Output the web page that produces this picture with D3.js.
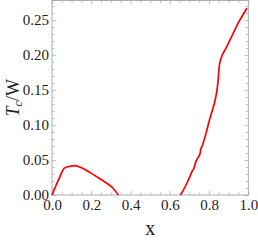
<!DOCTYPE html>
<html>
<head>
<meta charset="utf-8">
<script src="https://cdn.jsdelivr.net/npm/d3@7"></script>
<style>
  body { margin: 0; background: #fff; }
  svg { display: block; }
</style>
</head>
<body>
<div id="chart"></div>
<script>
// lower dome
var x1 = [0, 0.02, 0.04, 0.063, 0.09, 0.117, 0.15, 0.194, 0.24, 0.279, 0.31, 0.338]
var y1 = [0, 0.0135, 0.026, 0.0384, 0.041, 0.042, 0.039, 0.032, 0.024, 0.0168, 0.010, 0]
// rising branch
var x2 = [0.655, 0.687, 0.705, 0.713, 0.72, 0.725, 0.730, 0.745, 0.755, 0.758, 0.764, 0.789, 0.805, 0.820, 0.835, 0.845, 0.852, 0.862, 0.883, 0.917, 0.951, 0.993]
var y2 = [0, 0.0168, 0.028, 0.0335, 0.0365, 0.040, 0.0455, 0.054, 0.060, 0.066, 0.0694, 0.093, 0.11, 0.124, 0.141, 0.160, 0.184, 0.196, 0.208, 0.2275, 0.247, 0.267]

var xMajor = [0, 0.2, 0.4, 0.6, 0.8, 1.0]
var yMajor = [0, 0.05, 0.10, 0.15, 0.20, 0.25]

var width = 258, height = 241
var margin = {top: 0.5, right: 9.7, bottom: 46, left: 52}

var svg = d3.select("#chart").append("svg")
    .attr("width", width)
    .attr("height", height)

var x = d3.scaleLinear().domain([0, 1]).range([margin.left, width - margin.right])
var y = d3.scaleLinear().domain([0, 0.278]).range([height - margin.bottom, margin.top])

var xMinor = d3.range(0, 1.0001, 0.05).filter(function(v){ return Math.abs(v * 5 - Math.round(v * 5)) > 1e-6 })
var yMinor = d3.range(0, 0.2781, 0.01).filter(function(v){ return Math.abs(v * 20 - Math.round(v * 20)) > 1e-6 })

function styleAxis(g){
    g.select(".domain").remove()
    g.selectAll(".tick line").attr("stroke", "#b3b3b3").attr("stroke-width", 0.8)
    g.selectAll(".tick text")
        .attr("fill", "#222")
        .style("font-family", "'Liberation Serif', 'Times New Roman', serif")
        .style("font-size", "15px")
}

var yB = height - margin.bottom, xL = margin.left, xR = width - margin.right

// bottom
svg.append("g").attr("transform", "translate(0," + yB + ")")
    .call(d3.axisBottom(x).tickValues(xMajor).tickSize(-4).tickPadding(4).tickFormat(d3.format(".1f")))
    .call(styleAxis)
svg.append("g").attr("transform", "translate(0," + yB + ")")
    .call(d3.axisBottom(x).tickValues(xMinor).tickSize(-2.5).tickFormat(""))
    .call(styleAxis)
// top
svg.append("g").attr("transform", "translate(0," + margin.top + ")")
    .call(d3.axisTop(x).tickValues(xMajor).tickSize(-4).tickFormat(""))
    .call(styleAxis)
svg.append("g").attr("transform", "translate(0," + margin.top + ")")
    .call(d3.axisTop(x).tickValues(xMinor).tickSize(-2.5).tickFormat(""))
    .call(styleAxis)
// left
svg.append("g").attr("transform", "translate(" + xL + ",0)")
    .call(d3.axisLeft(y).tickValues(yMajor).tickSize(-4).tickPadding(3).tickFormat(d3.format(".2f")))
    .call(styleAxis)
svg.append("g").attr("transform", "translate(" + xL + ",0)")
    .call(d3.axisLeft(y).tickValues(yMinor).tickSize(-2.5).tickFormat(""))
    .call(styleAxis)
// right
svg.append("g").attr("transform", "translate(" + xR + ",0)")
    .call(d3.axisRight(y).tickValues(yMajor).tickSize(-4).tickFormat(""))
    .call(styleAxis)
svg.append("g").attr("transform", "translate(" + xR + ",0)")
    .call(d3.axisRight(y).tickValues(yMinor).tickSize(-2.5).tickFormat(""))
    .call(styleAxis)

// frame
svg.append("rect")
    .attr("x", xL).attr("y", margin.top)
    .attr("width", xR - xL).attr("height", yB - margin.top)
    .attr("fill", "none")
    .attr("stroke", "#999")
    .attr("stroke-width", 0.8)

var line = d3.line()
    .x(function(d){ return x(d[0]) })
    .y(function(d){ return y(d[1]) })
    .curve(d3.curveMonotoneX)

var seg1 = x1.map(function(v, i){ return [v, y1[i]] })
var seg2 = x2.map(function(v, i){ return [v, y2[i]] })

svg.selectAll("path.curve")
    .data([seg1, seg2])
    .enter()
    .append("path")
    .attr("class", "curve")
    .attr("d", line)
    .attr("fill", "none")
    .attr("stroke", "#ff0000")
    .attr("stroke-width", 1.7)
    .attr("stroke-linejoin", "round")

// axis labels
svg.append("text")
    .attr("x", (xL + xR) / 2)
    .attr("y", 235)
    .attr("text-anchor", "middle")
    .style("font-family", "'Liberation Serif', 'Times New Roman', serif")
    .style("font-size", "20px")
    .attr("fill", "#222")
    .text("x")

var yl = svg.append("text")
    .attr("transform", "translate(19," + ((margin.top + yB) / 2) + ") rotate(-90)")
    .attr("text-anchor", "middle")
    .style("font-family", "'Liberation Serif', 'Times New Roman', serif")
    .style("font-size", "18px")
    .attr("fill", "#222")
yl.append("tspan").style("font-style", "italic").text("T")
yl.append("tspan").style("font-style", "italic").style("font-size", "12px").attr("dy", 3).text("c")
yl.append("tspan").attr("dy", -3).text("/W")
</script>
</body>
</html>
